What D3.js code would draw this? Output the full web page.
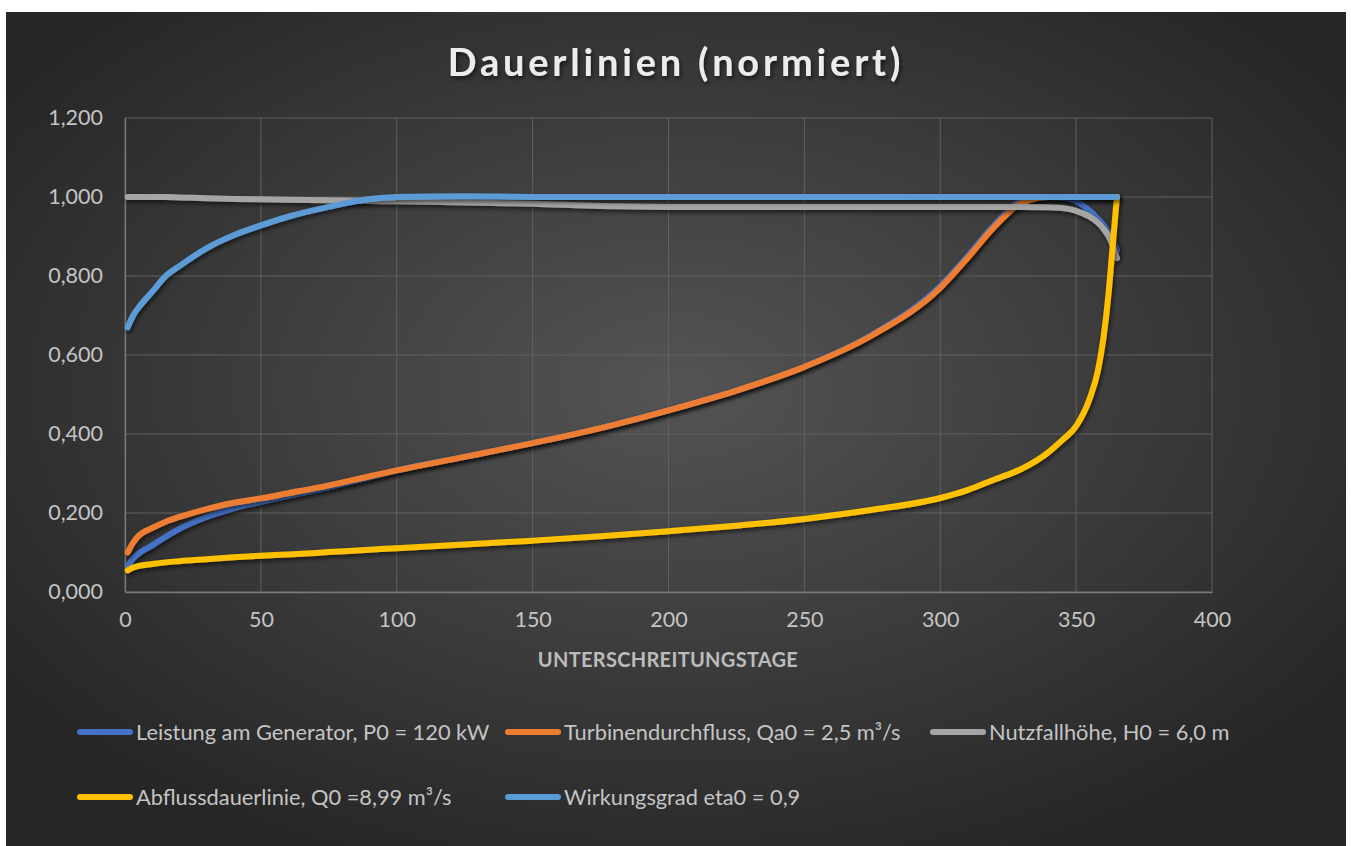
<!DOCTYPE html>
<html>
<head>
<meta charset="utf-8">
<script src="https://cdn.jsdelivr.net/npm/d3@7"></script>
<style>
  body { margin: 0; background: #fff; }
  text { font-family: Lato, "Open Sans", sans-serif; }
</style>
</head>
<body>
<svg id="paper" width="1351" height="846"></svg>
<script>
// data
var days = [1, 3, 5, 10, 15, 20, 30, 40, 50, 60, 75, 90, 100, 125, 150, 175, 200, 225, 250, 275,
    300, 310, 320, 330, 340, 345, 350, 355, 358, 360, 362, 363, 364, 365];

var leistung = [0.065, 0.085, 0.097, 0.118, 0.140, 0.160, 0.190, 0.212, 0.228, 0.243, 0.265, 0.290, 0.308, 0.342, 0.377, 0.415, 0.460, 0.510, 0.570, 0.652,
    0.775, 0.850, 0.930, 0.990, 1.000, 0.998, 0.990, 0.965, 0.945, 0.930, 0.910, 0.900, 0.885, 0.865];
var turbine = [0.100, 0.125, 0.142, 0.162, 0.178, 0.190, 0.210, 0.226, 0.237, 0.250, 0.270, 0.293, 0.308, 0.342, 0.377, 0.415, 0.460, 0.510, 0.570, 0.650,
    0.770, 0.845, 0.925, 0.985, 1.000, 1.000, 1.000, 1.000, 1.000, 1.000, 1.000, 1.000, 1.000, 1.000];
var fallhoehe = [1.000, 1.000, 1.000, 1.000, 1.000, 0.999, 0.997, 0.995, 0.994, 0.993, 0.992, 0.990, 0.989, 0.986, 0.983, 0.977, 0.975, 0.975, 0.975, 0.975,
    0.975, 0.975, 0.975, 0.975, 0.974, 0.972, 0.965, 0.950, 0.935, 0.920, 0.900, 0.885, 0.865, 0.845];
var abfluss = [0.055, 0.062, 0.066, 0.071, 0.075, 0.078, 0.083, 0.088, 0.092, 0.095, 0.101, 0.107, 0.111, 0.120, 0.130, 0.141, 0.154, 0.168, 0.185, 0.208,
    0.238, 0.258, 0.285, 0.312, 0.355, 0.385, 0.420, 0.490, 0.560, 0.640, 0.760, 0.840, 0.920, 1.000];
var wirkung = [0.670, 0.700, 0.720, 0.760, 0.800, 0.825, 0.870, 0.903, 0.928, 0.950, 0.975, 0.995, 1.000, 1.002, 1.000, 1.000, 1.000, 1.000, 1.000, 1.000,
    1.000, 1.000, 1.000, 1.000, 1.000, 1.000, 1.000, 1.000, 1.000, 1.000, 1.000, 1.000, 1.000, 1.000];

var seriesNames = ["Leistung am Generator, P0 = 120 kW", "Turbinendurchfluss, Qa0 = 2,5 m³/s",
    "Nutzfallhöhe, H0 = 6,0 m", "Abflussdauerlinie, Q0 =8,99 m³/s", "Wirkungsgrad eta0 = 0,9"];
var seriesValues = [leistung, turbine, fallhoehe, abfluss, wirkung];
var seriesColors = ["#4472C4", "#ED7D31", "#A5A5A5", "#FFC000", "#5B9BD5"];

var xTicks = [0, 50, 100, 150, 200, 250, 300, 350, 400];
var yTicks = [0, 0.2, 0.4, 0.6, 0.8, 1.0, 1.2];
var chartTitle = "Dauerlinien (normiert)";
var xTitle = "UNTERSCHREITUNGSTAGE";

var svg = d3.select("#paper");
var defs = svg.append("defs");

var grad = defs.append("radialGradient").attr("id", "bg")
    .attr("cx", "50%").attr("cy", "45%").attr("r", "62%");
grad.append("stop").attr("offset", "0%").attr("stop-color", "#545454");
grad.append("stop").attr("offset", "100%").attr("stop-color", "#262626");

var shadow = defs.append("filter").attr("id", "shadow")
    .attr("x", "-10%").attr("y", "-10%").attr("width", "120%").attr("height", "120%");
shadow.append("feDropShadow").attr("dx", 1.5).attr("dy", 2.5).attr("stdDeviation", 2)
    .attr("flood-color", "#000").attr("flood-opacity", 0.6);

svg.append("rect").attr("x", 6).attr("y", 12).attr("width", 1340).attr("height", 834)
    .attr("fill", "url(#bg)");

var x = d3.scaleLinear().domain([0, 400]).range([125, 1212]);
var y = d3.scaleLinear().domain([0, 1.2]).range([592, 118]);

// grid
svg.append("g").selectAll("line.h").data(yTicks).enter().append("line")
    .attr("x1", x(0)).attr("x2", x(400))
    .attr("y1", function (d) { return y(d); }).attr("y2", function (d) { return y(d); })
    .attr("stroke", "#606060").attr("stroke-width", 1);
svg.append("g").selectAll("line.v").data(xTicks).enter().append("line")
    .attr("y1", y(0)).attr("y2", y(1.2))
    .attr("x1", function (d) { return x(d); }).attr("x2", function (d) { return x(d); })
    .attr("stroke", "#606060").attr("stroke-width", 1);

// axes
var fmt = function (d) { return d3.format(",.3f")(d).replace(".", ","); };
var yAxis = svg.append("g").attr("transform", "translate(" + x(0) + ",0)")
    .call(d3.axisLeft(y).tickValues(yTicks).tickSize(0).tickPadding(22).tickFormat(fmt));
var xAxis = svg.append("g").attr("transform", "translate(0," + y(0) + ")")
    .call(d3.axisBottom(x).tickValues(xTicks).tickSize(0).tickPadding(20));
[xAxis, yAxis].forEach(function (a) {
    a.select(".domain").attr("stroke", "#7a7a7a").attr("stroke-width", 1.3);
    a.selectAll("text").attr("fill", "#c4c4c4").style("font-size", "21.5px");
});

// lines
var line = d3.line()
    .x(function (d, i) { return x(days[i]); })
    .y(function (d) { return y(d); })
    .curve(d3.curveMonotoneX);

svg.append("g").selectAll("path").data(seriesValues).enter().append("path")
    .attr("d", line)
    .attr("fill", "none")
    .attr("stroke", function (d, i) { return seriesColors[i]; })
    .attr("stroke-width", 6)
    .attr("stroke-linecap", "round")
    .attr("stroke-linejoin", "round")
    .attr("filter", "url(#shadow)");

// titles
svg.append("text").attr("x", 676).attr("y", 76).attr("text-anchor", "middle")
    .attr("fill", "#ececec").style("font-size", "38px").style("font-weight", "bold")
    .style("letter-spacing", "3.8px").attr("filter", "url(#shadow)")
    .text(chartTitle);
svg.append("text").attr("x", 668).attr("y", 667).attr("text-anchor", "middle")
    .attr("fill", "#bcbcbc").style("font-size", "20px").style("font-weight", "bold")
    .style("letter-spacing", "0.3px")
    .text(xTitle);

// legend
var legendPos = [[77, 732], [505, 732], [930, 732], [77, 797], [505, 797]];
var legend = svg.append("g").selectAll("g").data(seriesNames).enter().append("g")
    .attr("transform", function (d, i) { return "translate(" + legendPos[i][0] + "," + legendPos[i][1] + ")"; });
legend.append("line").attr("x1", 3).attr("x2", 53).attr("y1", 0).attr("y2", 0)
    .attr("stroke", function (d, i) { return seriesColors[i]; })
    .attr("stroke-width", 6).attr("stroke-linecap", "round");
legend.append("text").attr("x", 59).attr("y", 8)
    .attr("fill", "#c4c4c4").style("font-size", "21.8px")
    .text(function (d) { return d; });
</script>
</body>
</html>
